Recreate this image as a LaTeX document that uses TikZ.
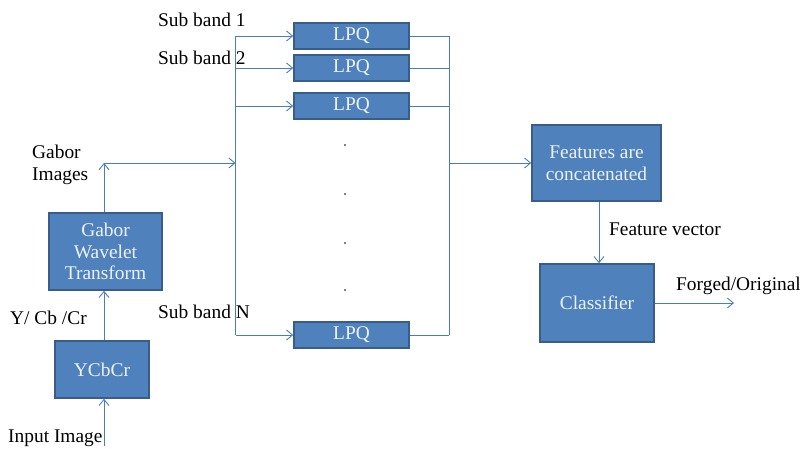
\documentclass[tikz,border=0pt]{standalone}
\usepackage{fontspec}
\setmainfont{Liberation Serif}
\usetikzlibrary{arrows.meta}
\definecolor{boxfill}{HTML}{4F81BD}
\definecolor{boxline}{HTML}{385D8A}
\definecolor{wire}{HTML}{4A7EBB}
\definecolor{boxtext}{HTML}{EEF2F8}
\begin{document}
\begin{tikzpicture}[x=1pt,y=-1pt,
  font=\fontsize{19.4}{21.5}\selectfont,
  blk/.style={draw=boxline,line width=1.6pt,fill=boxfill,text=boxtext,align=center,inner sep=0pt},
  wire/.style={draw=wire,line width=0.9pt},
  arr/.style={wire,-{Straight Barb[length=6pt,width=10pt,line width=0.9pt]}},
  lbl/.style={inner sep=0pt,align=left}]
\useasboundingbox (0,0) rectangle (800,449);
% boxes
\node[blk,minimum width=115,minimum height=26] (l1) at (351.5,36) {LPQ};
\node[blk,minimum width=115,minimum height=26] (l2) at (351.5,68) {LPQ};
\node[blk,minimum width=115,minimum height=26] (l3) at (351.5,106) {LPQ};
\node[blk,minimum width=115,minimum height=26] (ln) at (351.5,335) {LPQ};
\node[blk,minimum width=113,minimum height=77] (gwt) at (105.5,251.5) {Gabor\\Wavelet\\Transform};
\node[blk,minimum width=94,minimum height=57] (ycc) at (102,369.5) {YCbCr};
\node[blk,minimum width=129,minimum height=76] (feat) at (596.5,163) {Features are\\concatenated};
\node[blk,minimum width=114,minimum height=78] (cls) at (597,303) {Classifier};
% coordinates
\coordinate (bl1) at (235.5,36);
\coordinate (bln) at (235.5,335);
\coordinate (blg) at (235.5,163);
\coordinate (br1) at (449,36);
\coordinate (brn) at (449,335);
\coordinate (brf) at (449,163);
\coordinate (gtop) at (104,163);
\coordinate (inp) at (104,446);
\coordinate (out) at (734,303);
% left bus
\draw[wire] (bl1) -- (bln);
\draw[arr] (bl1) -- (l1.west);
\draw[arr] (235.5,68) -- (l2.west);
\draw[arr] (235.5,106) -- (l3.west);
\draw[arr] (bln) -- (ln.west);
% right bus
\draw[wire] (br1) -- (brn);
\draw[wire] (l1.east) -- (br1);
\draw[wire] (l2.east) -- (449,68);
\draw[wire] (l3.east) -- (449,106);
\draw[wire] (ln.east) -- (brn);
\draw[arr] (brf) -- (feat.west);
% left chain
\draw[arr] (inp) -- (ycc.south -| inp);
\draw[arr] (ycc.north -| gtop) -- (gwt.south -| gtop);
\draw[arr] (gwt.north -| gtop) -- (gtop);
\draw[arr] (gtop) -- (blg);
% right chain
\draw[arr] (feat.south -| 599,0) -- (cls.north -| 599,0);
\draw[arr] (cls.east) -- (out);
% dots
\foreach \yy/\nm in {145/d1,194/d2,243/d3,290/d4}
  \fill (345,\yy) circle (0.9) coordinate (\nm);
% labels
\node[lbl,anchor=west] (t1) at (158,20) {Sub band 1};
\node[lbl,anchor=west] (t2) at (158,58) {Sub band 2};
\node[lbl,anchor=west] (tn) at (158,312) {Sub band N};
\node[lbl,anchor=west] (tg) at (32,165) {Gabor\\Images};
\node[lbl,anchor=west] (ty) at (10,318) {Y/ Cb /Cr};
\node[lbl,anchor=west] (ti) at (8,438) {Input Image};
\node[lbl,anchor=west] (tf) at (609,229) {Feature vector};
\node[lbl,anchor=west] (to) at (676,286) {Forged/Original};
\end{tikzpicture}
\end{document}
